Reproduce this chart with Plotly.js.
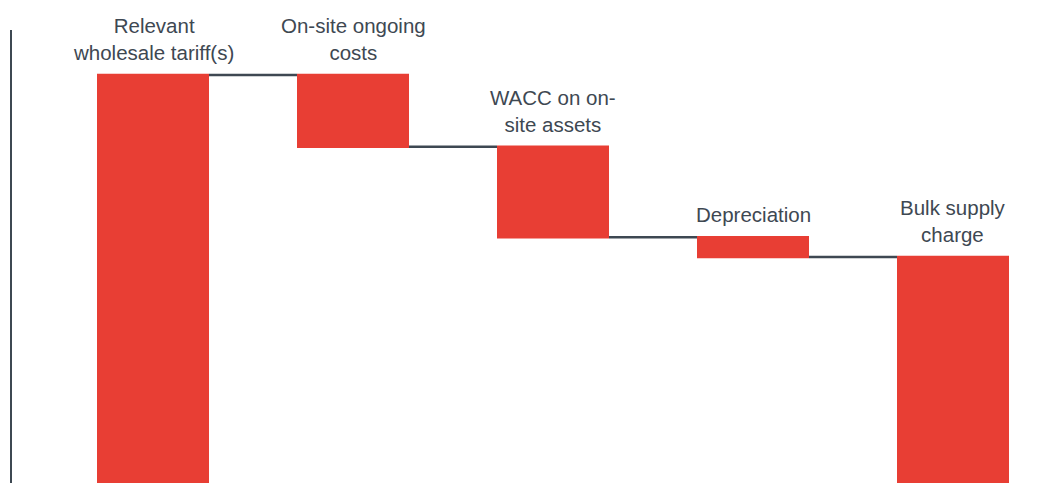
<!DOCTYPE html>
<html>
<head>
<meta charset="utf-8">
<script src="https://cdn.plot.ly/plotly-3.0.1.min.js"></script>
<style>html,body{margin:0;padding:0;background:#fff;}#chart{width:1048px;height:483px;}</style>
</head>
<body>
<div id="chart"></div>
<script>
const categories = ["Relevant wholesale tariff(s)", "On-site ongoing costs", "WACC on on-site assets", "Depreciation", "Bulk supply charge"];
const labels = ["Relevant<br>wholesale tariff(s)", "On-site ongoing<br>costs", "WACC on on-<br>site assets", "Depreciation", "Bulk supply<br>charge"];
const measures = ["absolute", "relative", "relative", "relative", "total"];
const values = [100, -17.6, -22.2, -4.8, 0];

const barColor = "#e83e34";
const textColor = "#3e4852";

// compute tops of each bar for label placement
let cum = 0;
const tops = [];
measures.forEach((m, i) => {
  if (m === "absolute") { cum = values[i]; tops.push(cum); }
  else if (m === "relative") { const prev = cum; cum += values[i]; tops.push(Math.max(prev, cum)); }
  else { tops.push(cum); }
});

const trace = {
  type: "waterfall",
  x: categories,
  y: values,
  measure: measures,
  width: 0.56,
  increasing: {marker: {color: barColor}},
  decreasing: {marker: {color: barColor}},
  totals: {marker: {color: barColor}},
  connector: {mode: "between", line: {color: textColor, width: 2.5}},
  textposition: "none",
  hoverinfo: "none"
};

const annotations = categories.map((c, i) => ({
  x: c, y: tops[i], xref: "x", yref: "y",
  text: labels[i], showarrow: false,
  yanchor: "bottom", xanchor: "center", align: "center",
  yshift: 9,
  font: {family: "Liberation Sans, Arial, sans-serif", size: 20.5, color: textColor}
}));

const layout = {
  width: 1048, height: 483,
  margin: {l: 12, r: 0, t: 30, b: 0},
  paper_bgcolor: "#ffffff", plot_bgcolor: "#ffffff",
  showlegend: false,
  xaxis: {type: "category", range: [-0.705, 4.475], showticklabels: false, showgrid: false, zeroline: false, showline: false, ticks: ""},
  yaxis: {range: [0, 111.0], showticklabels: false, showgrid: false, zeroline: false, showline: true, linecolor: textColor, linewidth: 2.5, ticks: ""},
  annotations: annotations,
  font: {family: "Liberation Sans, Arial, sans-serif", color: textColor}
};

Plotly.newPlot("chart", [trace], layout, {displayModeBar: false, staticPlot: true});
</script>
</body>
</html>
